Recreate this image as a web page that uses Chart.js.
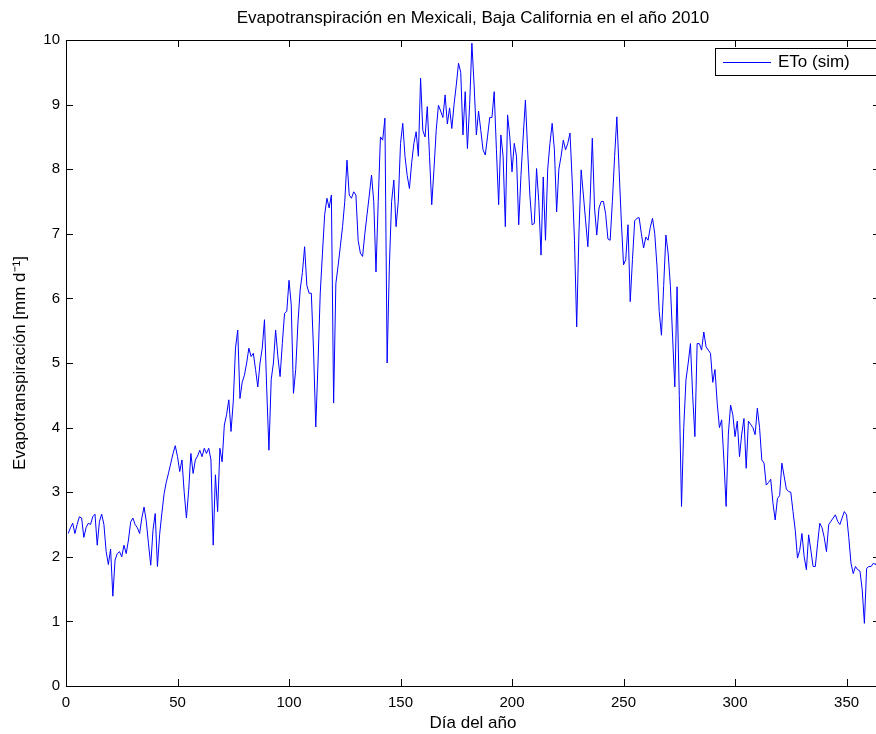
<!DOCTYPE html>
<html>
<head>
<meta charset="utf-8">
<script src="https://cdn.jsdelivr.net/npm/chart.js@4.4.1/dist/chart.umd.min.js"></script>
<style>
  html, body { margin: 0; padding: 0; background: #fff; overflow: hidden; }
  #wrap { width: 876px; height: 734px; overflow: hidden; }
  canvas { display: block; }
</style>
</head>
<body>
<div id="wrap"><canvas id="c" width="884" height="734"></canvas></div>
<script>
const chartTitle = "Evapotranspiración en Mexicali, Baja California en el año 2010";
const xAxisTitle = "Día del año";
const yAxisTitle = "Evapotranspiración [mm d⁻¹]";
const seriesLabel = "ETo (sim)";
const xTickValues = [0, 50, 100, 150, 200, 250, 300, 350];
const yTickValues = [0, 1, 2, 3, 4, 5, 6, 7, 8, 9, 10];

// Daily ETo values, day 1 .. day 365
const etoValues = [
  2.36, 2.45, 2.52, 2.36, 2.50, 2.62, 2.60, 2.30, 2.45, 2.52,
  2.50, 2.62, 2.66, 2.18, 2.55, 2.66, 2.50, 2.08, 1.88, 2.12,
  1.39, 1.95, 2.05, 2.08, 2.00, 2.18, 2.05, 2.26, 2.54, 2.60,
  2.50, 2.45, 2.36, 2.60, 2.77, 2.55, 2.20, 1.87, 2.41, 2.67,
  1.85, 2.35, 2.68, 2.98, 3.16, 3.30, 3.45, 3.60, 3.72, 3.55,
  3.32, 3.50, 3.00, 2.60, 3.03, 3.60, 3.29, 3.50, 3.56, 3.65,
  3.55, 3.68, 3.60, 3.68, 3.50, 2.18, 3.27, 2.70, 3.68, 3.47,
  4.04, 4.20, 4.43, 3.94, 4.40, 5.23, 5.51, 4.45, 4.70, 4.81,
  5.00, 5.23, 5.10, 5.15, 4.90, 4.63, 5.00, 5.23, 5.67, 4.60,
  3.65, 4.74, 5.00, 5.51, 5.10, 4.79, 5.30, 5.77, 5.80, 6.28,
  5.90, 4.53, 4.90, 5.62, 6.13, 6.40, 6.80, 6.20, 6.08, 6.08,
  5.20, 4.01, 5.00, 6.08, 6.70, 7.30, 7.55, 7.40, 7.60, 4.38,
  6.23, 6.50, 6.80, 7.11, 7.50, 8.14, 7.60, 7.55, 7.65, 7.60,
  6.90, 6.70, 6.65, 7.00, 7.30, 7.60, 7.91, 7.50, 6.41, 7.50,
  8.50, 8.45, 8.79, 5.00, 6.50, 7.50, 7.83, 7.11, 7.50, 8.40,
  8.71, 8.20, 7.90, 7.70, 8.10, 8.40, 8.58, 8.20, 9.41, 8.60,
  8.50, 8.97, 8.20, 7.45, 8.00, 8.60, 8.99, 8.90, 8.80, 9.15,
  8.70, 8.95, 8.63, 9.00, 9.30, 9.64, 9.50, 8.53, 9.20, 8.32,
  9.00, 9.95, 9.30, 8.53, 8.90, 8.60, 8.30, 8.22, 8.50, 8.80,
  8.80, 9.20, 8.30, 7.45, 8.53, 8.20, 7.11, 8.84, 8.50, 7.96,
  8.40, 8.20, 7.14, 7.90, 8.50, 9.07, 8.30, 7.60, 7.14, 7.16,
  8.01, 7.50, 6.67, 7.88, 6.90, 8.00, 8.40, 8.71, 8.30, 7.34,
  8.00, 8.20, 8.45, 8.30, 8.40, 8.56, 7.80, 6.90, 5.56, 7.00,
  7.99, 7.60, 7.20, 6.80, 7.50, 8.48, 7.40, 6.98, 7.40, 7.50,
  7.50, 7.30, 6.92, 6.90, 7.50, 8.20, 8.81, 8.00, 7.20, 6.52,
  6.60, 7.14, 5.95, 6.60, 7.20, 7.24, 7.25, 7.00, 6.78, 6.95,
  6.90, 7.10, 7.24, 7.00, 6.50, 5.80, 5.43, 6.20, 6.98, 6.70,
  6.20, 5.40, 4.63, 6.18, 4.50, 2.78, 4.00, 4.74, 5.00, 5.30,
  4.50, 3.86, 5.30, 5.30, 5.20, 5.48, 5.25, 5.20, 5.15, 4.70,
  4.90, 4.38, 4.00, 4.12, 3.50, 2.78, 3.90, 4.35, 4.20, 3.86,
  4.10, 3.55, 3.90, 4.14, 3.37, 4.10, 4.05, 4.00, 3.89, 4.30,
  4.00, 3.50, 3.45, 3.11, 3.15, 3.20, 2.83, 2.57, 2.90, 2.95,
  3.45, 3.25, 3.05, 3.01, 3.00, 2.70, 2.41, 1.98, 2.10, 2.36,
  2.00, 1.80, 2.34, 2.10, 1.85, 1.85, 2.20, 2.52, 2.45, 2.30,
  2.08, 2.50, 2.55, 2.60, 2.65, 2.55, 2.50, 2.60, 2.70, 2.65,
  2.30, 1.90, 1.74, 1.85, 1.80, 1.78, 1.50, 0.97, 1.82, 1.85,
  1.85, 1.90, 1.88, 1.95, 1.92
];
const days = etoValues.map((_, i) => i + 1);

const FONT = '"Liberation Sans", Arial, Helvetica, sans-serif';

const framePlugin = {
  id: 'frame',
  afterDraw(chart) {
    const ctx = chart.ctx;
    const a = chart.chartArea;
    const xs = chart.scales.x, ys = chart.scales.y;
    ctx.save();
    ctx.strokeStyle = '#000';
    ctx.lineWidth = 1;
    ctx.strokeRect(Math.round(a.left) + 0.5, Math.round(a.top) + 0.5,
                   Math.round(a.right - a.left), Math.round(a.bottom - a.top));
    const tl = 7;
    ctx.beginPath();
    yTickValues.forEach(v => {
      const y = Math.round(ys.getPixelForValue(v)) + 0.5;
      ctx.moveTo(a.left, y); ctx.lineTo(a.left + tl, y);
      ctx.moveTo(a.right, y); ctx.lineTo(a.right - tl, y);
    });
    xTickValues.forEach(v => {
      const x = Math.round(xs.getPixelForValue(v)) + 0.5;
      ctx.moveTo(x, a.bottom); ctx.lineTo(x, a.bottom - tl);
      ctx.moveTo(x, a.top); ctx.lineTo(x, a.top + tl);
    });
    ctx.stroke();

    // title centered on the plot area
    ctx.fillStyle = '#000';
    ctx.font = '17px ' + FONT;
    ctx.textAlign = 'center';
    ctx.textBaseline = 'middle';
    ctx.fillText(chartTitle, (a.left + a.right) / 2, 18);

    // legend box
    const ds = chart.data.datasets[0];
    const bx = 715.5, by = 48.5, bw = 200, bh = 27;
    ctx.fillStyle = '#fff';
    ctx.fillRect(bx, by, bw, bh);
    ctx.strokeStyle = '#000';
    ctx.strokeRect(bx, by, bw, bh);
    ctx.strokeStyle = ds.borderColor;
    ctx.lineWidth = 1;
    ctx.beginPath();
    ctx.moveTo(723, 62.5); ctx.lineTo(771, 62.5);
    ctx.stroke();
    ctx.fillStyle = '#000';
    ctx.textAlign = 'left';
    ctx.font = '17px ' + FONT;
    ctx.fillText(ds.label, 778, 62);
    ctx.restore();
  }
};

new Chart(document.getElementById('c'), {
  type: 'line',
  data: {
    datasets: [{
      label: seriesLabel,
      data: days.map((d, i) => ({ x: d, y: etoValues[i] })),
      borderColor: '#0000ff',
      borderWidth: 1,
      pointRadius: 0,
      tension: 0,
      fill: false
    }]
  },
  options: {
    responsive: false,
    animation: false,
    events: [],
    layout: { padding: { top: 40, right: 4, left: 0, bottom: 0 } },
    plugins: {
      legend: { display: false },
      title: { display: false },
      tooltip: { enabled: false }
    },
    scales: {
      x: {
        type: 'linear',
        min: 0, max: 365,
        afterBuildTicks(s) { s.ticks = xTickValues.map(v => ({ value: v })); },
        afterFit(s) { s.height = 48; },
        grid: { display: false, drawTicks: false },
        border: { display: false },
        ticks: { color: '#000', font: { family: FONT, size: 15 }, padding: 8, maxRotation: 0 },
        title: { display: true, text: xAxisTitle, color: '#000', font: { family: FONT, size: 17 }, padding: { top: 0, bottom: 0 } }
      },
      y: {
        type: 'linear',
        min: 0, max: 10,
        afterBuildTicks(s) { s.ticks = yTickValues.map(v => ({ value: v })); },
        afterFit(s) { s.width = 66; },
        grid: { display: false, drawTicks: false },
        border: { display: false },
        ticks: { color: '#000', font: { family: FONT, size: 15 }, padding: 6 },
        title: { display: true, text: yAxisTitle, color: '#000', font: { family: FONT, size: 17 }, padding: { top: 10, bottom: 0 } }
      }
    }
  },
  plugins: [framePlugin]
});
</script>
</body>
</html>
